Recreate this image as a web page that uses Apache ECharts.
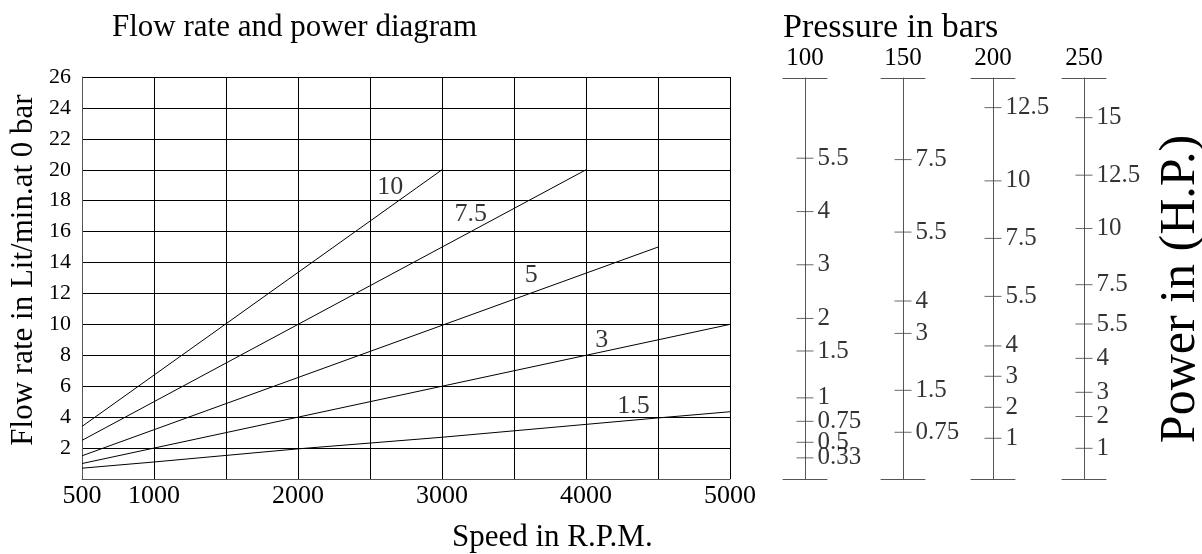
<!DOCTYPE html>
<html>
<head>
<meta charset="utf-8">
<script src="https://cdn.jsdelivr.net/npm/echarts@6/dist/echarts.min.js"></script>
<style>
  html, body { margin: 0; padding: 0; background: #fff; }
  #chart { width: 1202px; height: 554px; }
</style>
</head>
<body>
<div id="chart"></div>
<script>
var FONT = '"Liberation Serif", "DejaVu Serif", serif';

// x ticks that get a label (split lines every 500)
var speedLabels = [500, 1000, 2000, 3000, 4000, 5000];

// flow curves, [speed, flow]
var line10 = [[500, 3.4], [3000, 20]];
var line75 = [[500, 2.5], [4000, 20]];
var line5 = [[500, 1.5], [4500, 15]];
var line3 = [[500, 1.0], [5000, 10]];
var line15 = [[500, 0.7], [1000, 1.1], [2000, 1.95], [3000, 2.7], [4500, 3.95], [5000, 4.35]];

// curve labels [speed, flow, text]
var curveLabels = [
  [2640, 18.9, '10'],
  [3200, 17.1, '7.5'],
  [3620, 13.2, '5'],
  [4110, 9.0, '3'],
  [4330, 4.7, '1.5']
];

// power scales: pressure name, tick labels and where they sit on the flow scale
var pressures = ['100', '150', '200', '250'];
var powerTicks = [
  [['5.5', 20.8], ['4', 17.34], ['3', 13.89], ['2', 10.41], ['1.5', 8.3], ['1', 5.26], ['0.75', 3.74], ['0.5', 2.38], ['0.33', 1.37]],
  [['7.5', 20.71], ['5.5', 16.01], ['4', 11.54], ['3', 9.44], ['1.5', 5.75], ['0.75', 3.03]],
  [['12.5', 24.08], ['10', 19.33], ['7.5', 15.6], ['5.5', 11.84], ['4', 8.63], ['3', 6.66], ['2', 4.65], ['1', 2.64]],
  [['15', 23.43], ['12.5', 19.7], ['10', 16.24], ['7.5', 12.6], ['5.5', 10.05], ['4', 7.82], ['3', 5.62], ['2', 4.05], ['1', 1.99]]
];
var scaleX = [805, 903, 993, 1084];

var myChart = echarts.init(document.getElementById('chart'));

var grids = [{ left: 82, top: 77, width: 648, height: 402 }];
var xAxes = [{
  type: 'value', gridIndex: 0, min: 500, max: 5000, interval: 500,
  axisLine: { show: true, lineStyle: { color: '#555', width: 1 } },
  axisTick: { show: false },
  splitLine: { show: true, lineStyle: { color: '#000', width: 1 } },
  axisLabel: {
    color: '#000', fontFamily: FONT, fontSize: 26, margin: 4,
    formatter: function (v) { return speedLabels.indexOf(v) >= 0 ? String(v) : ''; }
  }
}];
var yAxes = [{
  type: 'value', gridIndex: 0, min: 0, max: 26, interval: 2,
  axisLine: { show: true, lineStyle: { color: '#555', width: 1 } },
  axisTick: { show: false },
  splitLine: { show: true, lineStyle: { color: '#000', width: 1 } },
  axisLabel: {
    color: '#000', fontFamily: FONT, fontSize: 22, margin: 11,
    formatter: function (v) { return v === 0 ? '' : String(v); }
  }
}];

var lineStyle = { color: '#000', width: 1 };
var series = [line10, line75, line5, line3, line15].map(function (d) {
  return {
    type: 'line', xAxisIndex: 0, yAxisIndex: 0, data: d,
    showSymbol: false, symbol: 'none', silent: true,
    lineStyle: lineStyle
  };
});
series.push({
  type: 'scatter', xAxisIndex: 0, yAxisIndex: 0, symbolSize: 0, silent: true,
  data: curveLabels.map(function (c) { return { value: [c[0], c[1]], name: c[2] }; }),
  label: {
    show: true, position: 'inside', formatter: '{b}',
    color: '#000', fontFamily: FONT, fontSize: 26
  }
});

// one small grid per pressure scale
pressures.forEach(function (p, i) {
  var g = i + 1;
  grids.push({ left: scaleX[i] - 22, top: 78, width: 44, height: 401 });
  var barLine = { show: true, onZero: false, lineStyle: { color: '#555', width: 1 } };
  xAxes.push({
    type: 'value', gridIndex: g, min: -1, max: 1, position: 'bottom',
    axisLine: barLine, axisTick: { show: false }, axisLabel: { show: false }, splitLine: { show: false }
  });
  xAxes.push({
    type: 'value', gridIndex: g, min: -1, max: 1, position: 'top',
    axisLine: barLine, axisTick: { show: false }, axisLabel: { show: false }, splitLine: { show: false }
  });
  yAxes.push({
    type: 'value', gridIndex: g, min: 0, max: 26,
    name: p, nameLocation: 'end', nameGap: 7,
    nameTextStyle: { color: '#000', fontFamily: FONT, fontSize: 25, align: 'center' },
    axisLine: { show: true, onZero: true, lineStyle: { color: '#555', width: 1 } },
    axisTick: { show: false }, axisLabel: { show: false }, splitLine: { show: false }
  });
  series.push({
    type: 'scatter', xAxisIndex: 2 * i + 1, yAxisIndex: g, silent: true,
    symbol: 'rect', symbolSize: [17, 1],
    itemStyle: { color: '#444' },
    data: powerTicks[i].map(function (t) { return { value: [0, t[1]], name: t[0] }; }),
    label: {
      show: true, position: 'right', distance: 4, formatter: '{b}',
      color: '#000', fontFamily: FONT, fontSize: 25
    }
  });
});

var option = {
  animation: false,
  backgroundColor: '#fff',
  grid: grids,
  xAxis: xAxes,
  yAxis: yAxes,
  series: series,
  graphic: [
    {
      type: 'text', left: 112, top: 12,
      style: { text: 'Flow rate and power diagram', fill: '#000', font: '31px ' + FONT }
    },
    {
      type: 'text', left: 783, top: 11,
      style: { text: 'Pressure in bars', fill: '#000', font: '34px ' + FONT }
    },
    {
      type: 'text', left: 452, top: 522,
      style: { text: 'Speed in R.P.M.', fill: '#000', font: '31px ' + FONT }
    },
    {
      type: 'text', x: 24, y: 270, rotation: Math.PI / 2,
      style: { text: 'Flow rate in Lit/min.at 0 bar', fill: '#000', font: '31px ' + FONT, align: 'center', verticalAlign: 'middle' }
    },
    {
      type: 'text', x: 1181, y: 289, rotation: Math.PI / 2,
      style: { text: 'Power in (H.P.)', fill: '#000', font: '50px ' + FONT, align: 'center', verticalAlign: 'middle' }
    }
  ]
};
myChart.setOption(option);
</script>
</body>
</html>
